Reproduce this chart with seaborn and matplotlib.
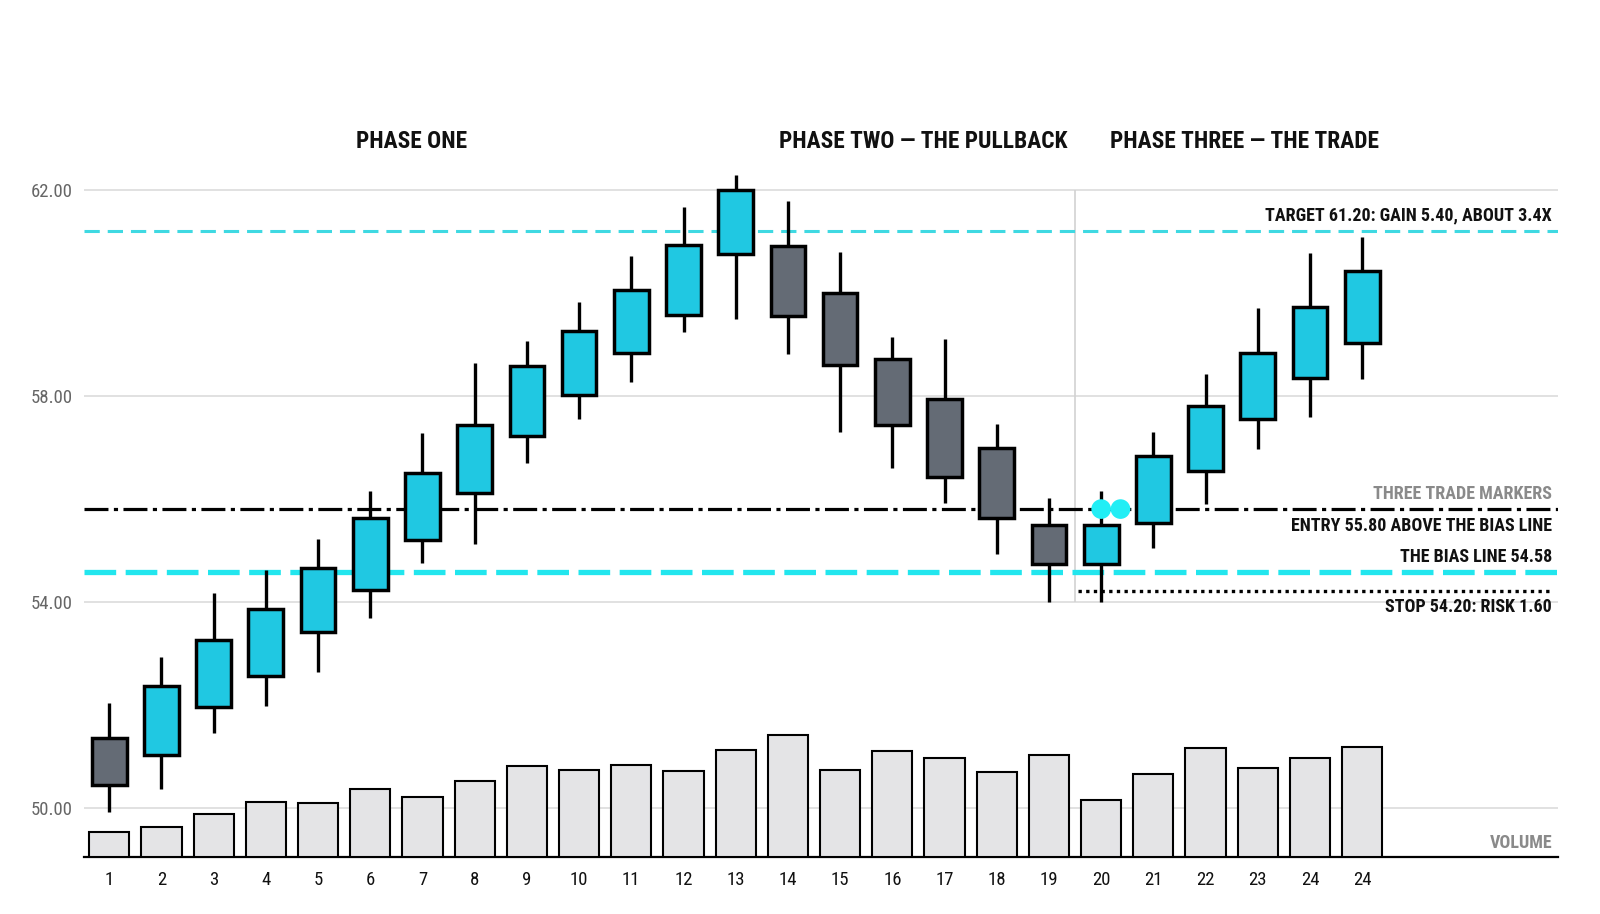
import matplotlib
matplotlib.use("Agg")
import matplotlib.pyplot as plt
import matplotlib.transforms as mtransforms
import numpy as np
import pandas as pd
import seaborn as sns

# Datos
days = list(range(1, 26))
day_labels = [str(d) for d in range(1, 25)] + ["24"]

opens = [51.36, 51.02, 51.95, 52.55, 53.42, 54.23, 55.19, 56.12, 57.21, 58.02,
         58.83, 59.56, 60.75, 60.91, 60.00, 58.71, 57.94, 56.99, 55.50, 54.73,
         55.52, 56.53, 57.54, 58.35, 59.03]
highs = [52.03, 52.93, 54.17, 54.61, 55.21, 56.16, 57.27, 58.63, 59.07, 59.82,
         60.71, 61.66, 62.28, 61.78, 60.79, 59.15, 59.11, 57.46, 56.02, 56.16,
         57.30, 58.43, 59.70, 60.77, 61.09]
lows = [49.91, 50.37, 51.46, 51.97, 52.63, 53.68, 54.75, 55.13, 56.69, 57.54,
        58.26, 59.23, 59.49, 58.81, 57.29, 56.59, 55.92, 54.93, 54.00, 54.00,
        55.04, 55.90, 56.97, 57.58, 58.32]
closes = [50.45, 52.37, 53.26, 53.86, 54.65, 55.62, 56.51, 57.44, 58.57, 59.25,
          60.06, 60.93, 62.00, 59.54, 58.59, 57.44, 56.43, 55.62, 54.73, 55.50,
          56.83, 57.80, 58.83, 59.72, 60.42]
volume = [250, 300, 430, 550, 540, 680, 600, 760, 910, 870,
          920, 860, 1070, 1220, 870, 1060, 990, 850, 1020, 570,
          830, 1090, 890, 990, 1100]

price_ticks = [50, 54, 58, 62]

phase_names = ["PHASE ONE", "PHASE TWO — THE PULLBACK", "PHASE THREE — THE TRADE"]
phase_x = [6.8, 16.6, 22.75]

target_price = 61.20
entry_price = 55.80
bias_price = 54.58
stop_price = 54.20
trade_start = 19.5
marker_days = [20.0, 20.37]

# Colores
BULL = "#20c8e2"
BEAR = "#646b75"
CYAN_LINE = "#22e6ee"
TARGET_LINE = "#3fd9e2"
VOL_FILL = "#e4e4e6"
GRID = "#dcdcdc"

sns.set_theme(style="white")
plt.rcParams['font.family'] = ['Roboto Condensed', 'Liberation Sans Narrow', 'Roboto', 'DejaVu Sans']

df = pd.DataFrame({"day": days, "open": opens, "high": highs, "low": lows,
                   "close": closes, "volume": volume})
df["bull"] = df["close"] >= df["open"]

fig = plt.figure(figsize=(16, 9.14), dpi=100)
ax = fig.add_axes([0.0525, 0.0624, 0.92125, 0.7626])
ax.set_xlim(0.517, 28.75)
ax.set_ylim(49.045, 62.579)

# Volumen en un eje gemelo, en la parte baja
ax_vol = ax.twinx()
sns.barplot(data=df, x="day", y="volume", native_scale=True, width=0.77,
            color=VOL_FILL, saturation=1, edgecolor="black", linewidth=1.5,
            errorbar=None, ax=ax_vol)
ax_vol.set_ylim(0, 6970)
ax_vol.set_yticks([])
ax_vol.set_ylabel("")
for s in ax_vol.spines.values():
    s.set_visible(False)

# Rejilla
ax.set_yticks(price_ticks)
ax.set_yticklabels([f"{v:.2f}" for v in price_ticks])
ax.yaxis.grid(True, color=GRID, linewidth=1.2)
ax.set_axisbelow(True)
ax.tick_params(axis="y", length=0, pad=8, labelsize=13.5, labelcolor="#666666")
ax.set_xticks(days)
ax.set_xticklabels(day_labels)
ax.tick_params(axis="x", length=0, pad=10, labelsize=13.5, labelcolor="#111111")
for side in ["left", "right", "top"]:
    ax.spines[side].set_visible(False)
ax.spines["bottom"].set_color("black")
ax.spines["bottom"].set_linewidth(1.6)
ax.set_xlabel("")
ax.set_ylabel("")

# Separador de la fase tres
ax.vlines(trade_start, price_ticks[1], price_ticks[-1], color="#d2d2d2", linewidth=1.2, zorder=1)

# Niveles
ax.axhline(target_price, color=TARGET_LINE, linewidth=2.2, dashes=(5, 2.6), zorder=2)
ax.axhline(bias_price, color=CYAN_LINE, linewidth=3.8, dashes=(6, 1.8), zorder=2)
ax.axhline(entry_price, color="black", linewidth=2.3, dashes=(7.5, 1.7, 1.3, 1.7), zorder=2)
ax.hlines(stop_price, trade_start + 0.05, 28.62, color="black", linewidth=2.4,
          linestyles=(0, (1, 1.3)), zorder=2)

# Velas
ax.vlines(df["day"], df["low"], df["high"], color="black", linewidth=2.4, zorder=3)
body_bottom = df[["open", "close"]].min(axis=1)
body_height = (df["close"] - df["open"]).abs()
ax.bar(df["day"], body_height, bottom=body_bottom, width=0.665,
       color=np.where(df["bull"], BULL, BEAR), edgecolor="black", linewidth=2.5, zorder=4)

# Marcadores de la operación
sns.scatterplot(x=marker_days, y=[entry_price] * len(marker_days), s=200,
                color="#22eef5", edgecolor="none", zorder=5, ax=ax, legend=False)

# Títulos de fase
tr = mtransforms.blended_transform_factory(ax.transData, fig.transFigure)
for name, xp in zip(phase_names, phase_x):
    ax.text(xp, 1 - 141 / 914, name, transform=tr, ha="center", va="center",
            fontsize=16.8, fontweight="bold", color="#111111")

# Etiquetas a la derecha
def right_label(y, text, dy, color="#111111"):
    ax.annotate(text, xy=(0.9959, y), xycoords=("axes fraction", "data"),
                xytext=(0, dy), textcoords="offset points", ha="right", va="center",
                fontsize=13, fontweight="bold", color=color, zorder=6)

right_label(target_price, "TARGET 61.20: GAIN 5.40, ABOUT 3.4X", 11)
right_label(entry_price, "THREE TRADE MARKERS", 11, color="#8a8a8a")
right_label(entry_price, "ENTRY 55.80 ABOVE THE BIAS LINE", -12.5)
right_label(bias_price, "THE BIAS LINE 54.58", 11)
right_label(stop_price, "STOP 54.20: RISK 1.60", -11.5)
ax.annotate("VOLUME", xy=(0.9959, 0), xycoords="axes fraction", xytext=(0, 10),
            textcoords="offset points", ha="right", va="center", fontsize=13,
            fontweight="bold", color="#8a8a8a")

fig.savefig("out.png", dpi=100, facecolor="white")
